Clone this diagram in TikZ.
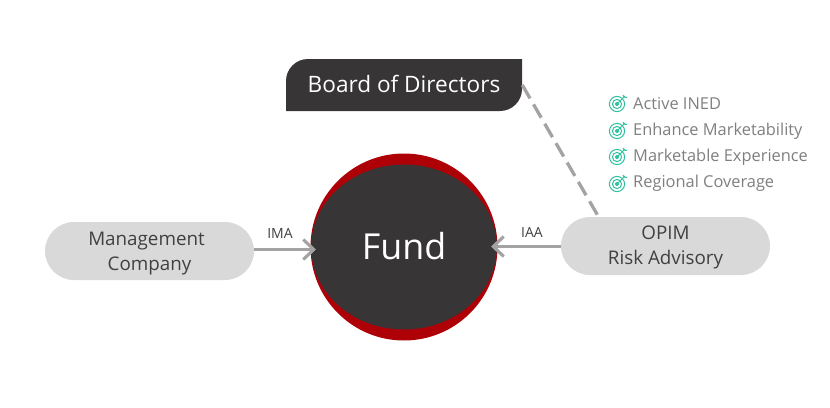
\documentclass[tikz,border=0pt]{standalone}
\usepackage{fontspec}
\setmainfont{Open Sans}
\usetikzlibrary{arrows.meta,shapes.misc}
\definecolor{darkfill}{HTML}{373536}
\definecolor{redfill}{HTML}{AE0007}
\definecolor{pillfill}{HTML}{D9D9D9}
\definecolor{linegray}{HTML}{A3A3A3}
\definecolor{teal1}{HTML}{2FC0A0}
\definecolor{listgray}{HTML}{7F7F7F}
\definecolor{textdark}{HTML}{404040}
\tikzset{
  x=1pt,y=-1pt,
  pill/.style={rounded rectangle,fill=pillfill,minimum width=209pt,minimum height=58pt,inner sep=0pt},
  pilltext/.style={align=center,inner sep=0pt,text=textdark,font=\fontsize{18.8}{24.5}\selectfont},
  linklabel/.style={text=textdark,font=\fontsize{14}{16}\selectfont,inner sep=0pt},
  listitem/.style={anchor=west,text=listgray,font=\fontsize{16.4}{18}\selectfont,inner sep=0pt},
  flow/.style={draw=linegray,line width=3.5pt,-{Straight Barb[length=10.5pt,width=20pt,line width=3.1pt]}},
  dashlink/.style={draw=linegray,line width=3.3pt,dash pattern=on 15.4pt off 7pt},
  target/.pic={
    \draw[teal1,line width=1pt] (0,0) circle[radius=7.6pt];
    \draw[teal1,line width=1pt] (0,0) circle[radius=4.6pt];
    \fill[teal1] (0,0) circle[radius=2pt];
    \draw[teal1,line width=1pt] (0,0) -- (8,-8);
    \draw[teal1,line width=1pt] (6,-9) -- (7,-7) -- (10,-6.5);
  }
}
\begin{document}
\begin{tikzpicture}
\useasboundingbox (0,0) rectangle (830,407);
% Fund
\fill[redfill] (404,247) circle[radius=93.5pt];
\fill[darkfill] (404,247) ellipse[x radius=92.8pt,y radius=82.5pt];
\node[circle,minimum size=187pt,inner sep=0pt,text=white,font=\fontsize{35.8}{40}\selectfont] (fund) at (404,246.5) {Fund};
% Board
\fill[darkfill] (522,59) -- (522,89) arc[start angle=0,end angle=90,x radius=22pt,y radius=-22pt] -- (286,111) -- (286,81) arc[start angle=180,end angle=270,x radius=22pt,y radius=-22pt] -- cycle;
\node[minimum width=236pt,minimum height=52pt,inner sep=0pt,text=white,font=\fontsize{22.6}{26}\selectfont] (board) at (404,84) {Board of Directors};
% Pills
\node[pill,label={[pilltext,yshift=-2.5pt]center:Management\hspace*{6pt}\\Company}] (mgmt) at (149.5,251) {};
\node[pill,label={[pilltext,yshift=-1.5pt]center:OPIM\\Risk Advisory}] (opim) at (665.5,246) {};
% Connectors
\coordinate (fundW) at (316,249.5);
\coordinate (fundE) at (491,246.5);
\draw[flow] (mgmt.east |- fundW) -- (fundW);
\draw[flow] (opim.west |- fundE) -- (fundE);
\coordinate (opimTop) at (597.5,215);
\coordinate (boardE) at (522.3,85);
\draw[dashlink] (boardE) -- (opimTop);
% Labels
\node[linklabel] (ima) at (280,233) {IMA};
\node[linklabel] (iaa) at (532,232.5) {IAA};
% List
\pic at (617,104) {target};
\pic at (617,131) {target};
\pic at (617,157) {target};
\pic at (617,184) {target};
\node[listitem] (l1) at (633,104) {Active INED};
\node[listitem] (l2) at (633,131) {Enhance Marketability};
\node[listitem] (l3) at (633,157.5) {Marketable Experience};
\node[listitem] (l4) at (633,183) {Regional Coverage};
\end{tikzpicture}
\end{document}
